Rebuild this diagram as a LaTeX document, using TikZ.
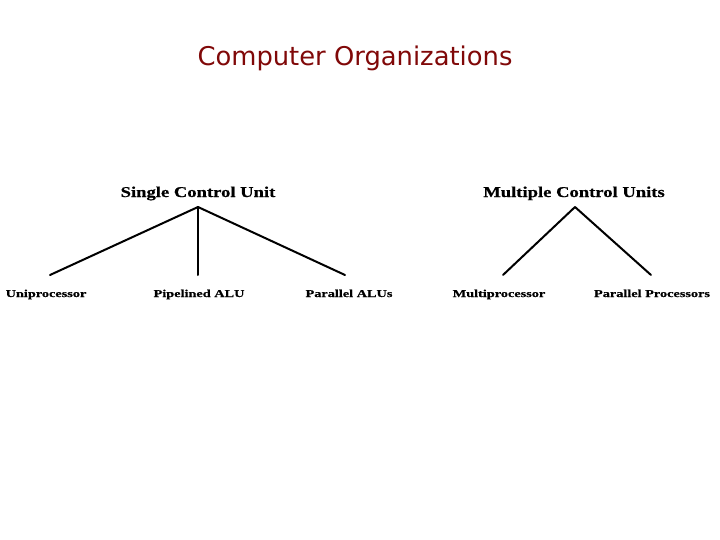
\documentclass[tikz,border=0pt]{standalone}
\usepackage{fontspec}
\setmainfont{Liberation Serif}
\newfontfamily\titlefont{DejaVu Sans}
\newfontfamily\headfont[FakeStretch=1.24,FakeBold=0.6]{Liberation Serif Bold}
\newfontfamily\leaffont[FakeStretch=1.36,FakeBold=0.6]{Liberation Serif Bold}
\definecolor{titlered}{RGB}{128,8,8}
\begin{document}
\begin{tikzpicture}[x=1pt,y=-1pt,
  head/.style={font=\headfont\fontsize{15}{18}\selectfont, inner sep=0, anchor=base},
  leaf/.style={font=\leaffont\fontsize{10.5}{13}\selectfont, inner sep=0, anchor=base},
  branch/.style={line width=2pt, line cap=round}]
\useasboundingbox (0,0) rectangle (720,540);
\node[font=\titlefont\fontsize{25.8}{30}\selectfont, text=titlered, inner sep=0, anchor=base] (title) at (355,66) {Computer Organizations};
% Single control unit tree
\node[head] (scu) at (198,197) {Single Control Unit};
\coordinate (scuA) at (198,207);
\node[leaf] (uni) at (46,297) {Uniprocessor};
\node[leaf] (pip) at (199,297) {Pipelined ALU};
\node[leaf] (par) at (349,297) {Parallel ALUs};
\coordinate (uniT) at (50,275);
\coordinate (pipT) at (198,275);
\coordinate (parT) at (345,275);
\draw[branch] (scuA) -- (uniT);
\draw[branch] (scuA) -- (pipT);
\draw[branch] (scuA) -- (parT);
% Multiple control units tree
\node[head] (mcu) at (574,197) {Multiple Control Units};
\coordinate (mcuA) at (575,207);
\node[leaf] (mul) at (499,297) {Multiprocessor};
\node[leaf] (ppr) at (652,297) {Parallel Processors};
\coordinate (mulT) at (503,275);
\coordinate (pprT) at (651,275);
\draw[branch] (mcuA) -- (mulT);
\draw[branch] (mcuA) -- (pprT);
\end{tikzpicture}
\end{document}
